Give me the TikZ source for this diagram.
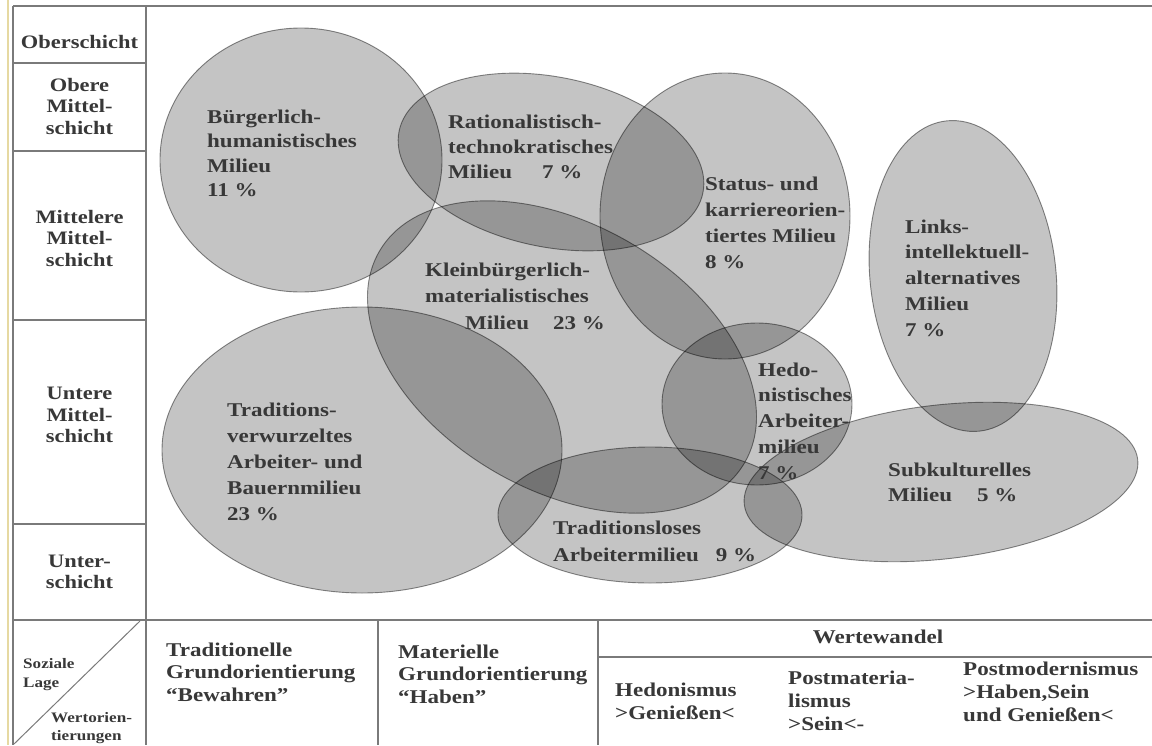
\documentclass[tikz,border=0pt]{standalone}
\usepackage{fontspec}
\setmainfont{Liberation Serif}[FakeStretch=1.18]
\definecolor{ink}{HTML}{383838}
\definecolor{rulegray}{HTML}{7A7A7A}
\definecolor{milfill}{gray}{0.77}
\definecolor{miledge}{HTML}{8C8C8C}
\definecolor{scanline}{HTML}{E6D9A2}
\tikzset{
  milieu/.style={fill=milfill, draw=miledge, line width=0.9pt},
  lab/.style={inner sep=0pt, anchor=base west, align=left, text=ink},
  fbig/.style={font=\bfseries\fontsize{19.5}{#1}\selectfont},
  fsmall/.style={font=\bfseries\fontsize{14.5}{#1}\selectfont},
  gridline/.style={draw=rulegray, line width=1.4pt},
  rowlab/.style={inner sep=0pt, align=center, text=ink, font=\bfseries\fontsize{19}{21.5}\selectfont}
}
\begin{document}
\begin{tikzpicture}[x=1pt,y=-1pt]
\useasboundingbox (0,0) rectangle (1152,745);
\fill[white] (0,0) rectangle (1152,745);
\draw[scanline, line width=2.5pt] (8,0) -- (8,745);

% milieu ellipses
\begin{scope}[blend group=multiply]
  \path[milieu] (301,160) ellipse [x radius=141pt, y radius=132pt];
  \path[milieu, rotate around={-11.5:(551,162)}] (551,162) ellipse [x radius=155pt, y radius=85pt];
  \path[milieu] (725,216) ellipse [x radius=125pt, y radius=143pt];
  \path[milieu, rotate around={-30:(562,357)}] (562,357) ellipse [x radius=211pt, y radius=133pt];
  \path[milieu] (362,450) ellipse [x radius=200pt, y radius=143pt];
  \path[milieu] (650,515) ellipse [x radius=152pt, y radius=68pt];
  \path[milieu] (757,404) ellipse [x radius=95pt, y radius=81pt];
  \path[milieu, rotate around={6:(963,276)}] (963,276) ellipse [x radius=93pt, y radius=156pt];
  \path[milieu, rotate around={6.5:(941,482)}] (941,482) ellipse [x radius=198pt, y radius=77pt];
\end{scope}

% grid
\draw[gridline] (13,6) -- (1152,6);
\draw[gridline] (13,6) -- (13,745);
\draw[gridline] (146,6) -- (146,745);
\draw[gridline] (13,63) -- (146,63);
\draw[gridline] (13,151) -- (146,151);
\draw[gridline] (13,320) -- (146,320);
\draw[gridline] (13,524) -- (146,524);
\draw[gridline] (13,620) -- (1152,620);
\draw[gridline] (378,620) -- (378,745);
\draw[gridline] (598,620) -- (598,745);
\draw[gridline] (598,657) -- (1152,657);
\draw[draw=rulegray, line width=1pt] (14,744) -- (140,621);

% row labels
\node[rowlab] (r1) at (79.5,42) {Oberschicht};
\node[rowlab] (r2) at (79.5,106) {Obere\\Mittel-\\schicht};
\node[rowlab] (r3) at (79.5,238) {Mittelere\\Mittel-\\schicht};
\node[rowlab] (r4) at (79.5,415) {Untere\\Mittel-\\schicht};
\node[rowlab] (r5) at (79.5,572) {Unter-\\schicht};

% milieu labels (anchor = baseline of the last line)
\node[lab, fbig=24.5] (tB) at (207,196.5) {Bürgerlich-\\humanistisches\\Milieu\\11 \%};
\node[lab, fbig=25] (tR) at (448,178) {Rationalistisch-\\technokratisches\\Milieu\hspace{30pt}7 \%};
\node[lab, fbig=25.7] (tS) at (705,268) {Status- und\\karriereorien-\\tiertes Milieu\\8 \%};
\node[lab, fbig=26.5] (tK) at (425,329) {Kleinbürgerlich-\\materialistisches\\\hspace{40pt}Milieu\hspace{24pt}23 \%};
\node[lab, fbig=26] (tT) at (227,520) {Traditions-\\verwurzeltes\\Arbeiter- und\\Bauernmilieu\\23 \%};
\node[lab, fbig=27] (tL) at (553,561) {Traditionsloses\\Arbeitermilieu\hspace{17pt}9 \%};
\node[lab, fbig=25.7] (tH) at (758,479) {Hedo-\\nistisches\\Arbeiter-\\milieu\\7 \%};
\node[lab, fbig=25.7] (tLi) at (905,336) {Links-\\intellektuell-\\alternatives\\Milieu\\7 \%};
\node[lab, fbig=25] (tSu) at (888,501) {Subkulturelles\\Milieu\hspace{25pt}5 \%};

% bottom header
\node[lab, fsmall=19] (hSL) at (23,687) {Soziale\\Lage};
\node[lab, fsmall=18] (hWO) at (51,740) {Wertorien-\\tierungen};
\node[lab, fbig=22.5] (hT) at (166,701) {Traditionelle\\Grundorientierung\\“Bewahren”};
\node[lab, fbig=22.5] (hM) at (398,703) {Materielle\\Grundorientierung\\“Haben”};
\node[inner sep=0pt, text=ink, font=\bfseries\fontsize{19.5}{22}\selectfont] (hW) at (878,637) {Wertewandel};
\node[lab, fbig=23] (hH) at (615,719) {Hedonismus\\>Genießen<};
\node[lab, fbig=23] (hP) at (788,730) {Postmateria-\\lismus\\>Sein<-};
\node[lab, fbig=23] (hPM) at (963,721) {Postmodernismus\\>Haben,Sein\\und Genießen<};
\end{tikzpicture}
\end{document}
